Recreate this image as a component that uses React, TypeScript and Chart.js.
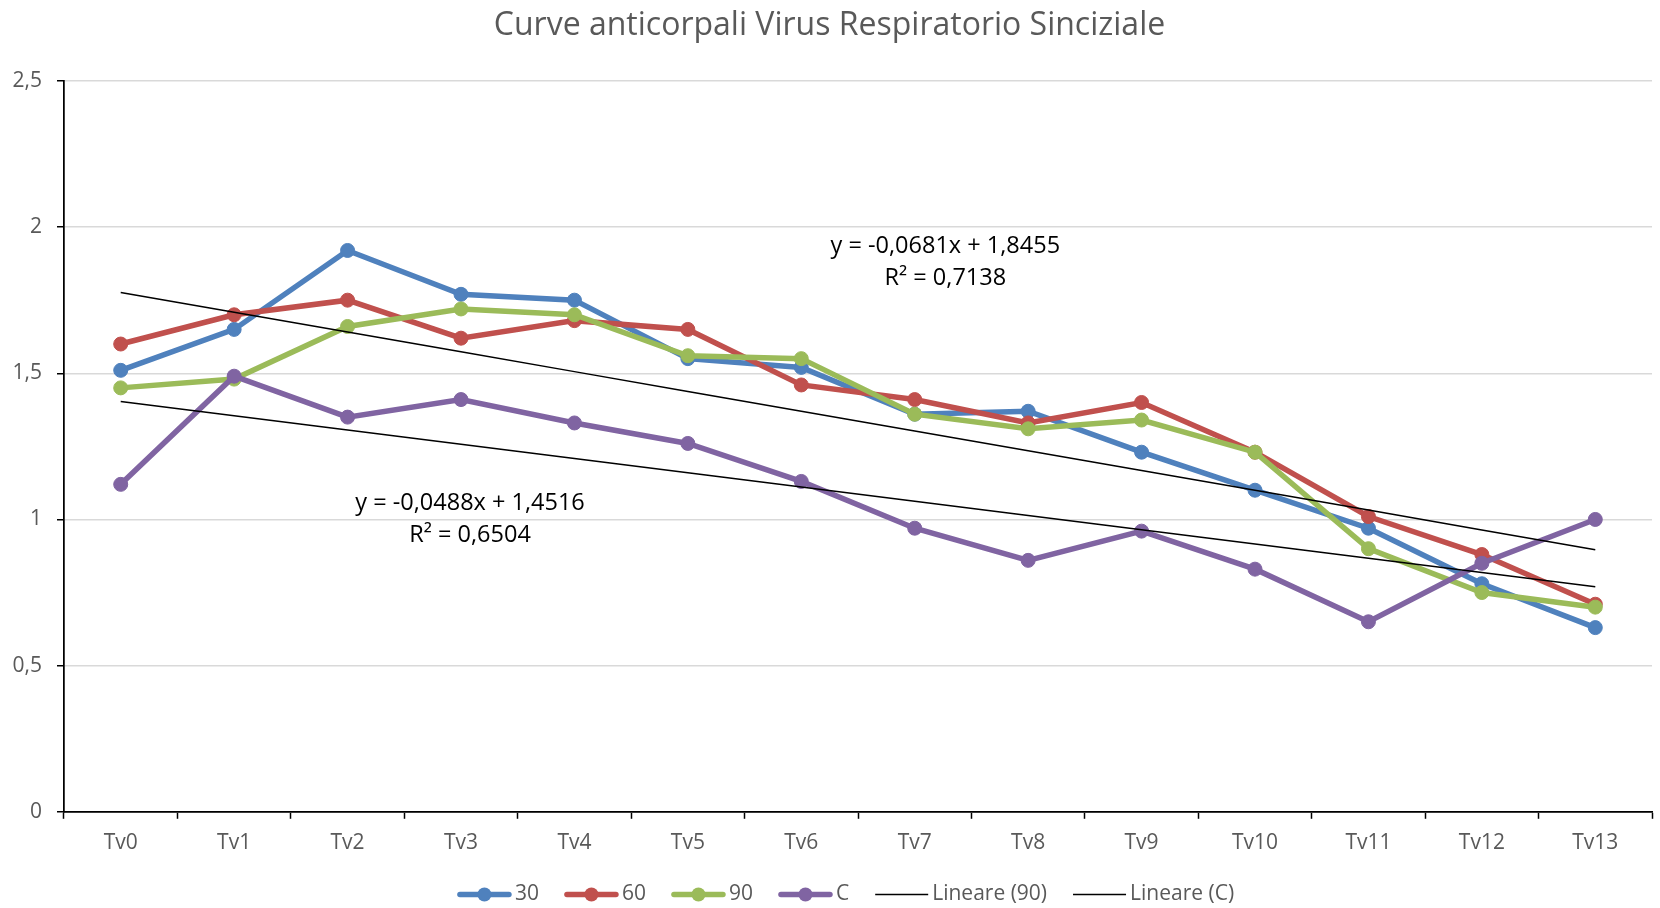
import React, { useEffect, useRef } from 'react';
import { Chart, registerables } from 'chart.js';

Chart.register(...registerables);

const categories = ['Tv0', 'Tv1', 'Tv2', 'Tv3', 'Tv4', 'Tv5', 'Tv6', 'Tv7', 'Tv8', 'Tv9', 'Tv10', 'Tv11', 'Tv12', 'Tv13'];
const series30 = [1.51, 1.65, 1.92, 1.77, 1.75, 1.55, 1.52, 1.36, 1.37, 1.23, 1.10, 0.97, 0.78, 0.63];
const series60 = [1.60, 1.70, 1.75, 1.62, 1.68, 1.65, 1.46, 1.41, 1.33, 1.40, 1.23, 1.01, 0.88, 0.71];
const series90 = [1.45, 1.48, 1.66, 1.72, 1.70, 1.56, 1.55, 1.36, 1.31, 1.34, 1.23, 0.90, 0.75, 0.70];
const seriesC = [1.12, 1.49, 1.35, 1.41, 1.33, 1.26, 1.13, 0.97, 0.86, 0.96, 0.83, 0.65, 0.85, 1.00];
const yTickValues = [0, 0.5, 1, 1.5, 2, 2.5];
const trendText90 = ['y = -0,0681x + 1,8455', 'R² = 0,7138'];
const trendTextC = ['y = -0,0488x + 1,4516', 'R² = 0,6504'];
const titleText = 'Curve anticorpali Virus Respiratorio Sinciziale';

const COLORS = { s30: '#4F81BD', s60: '#C0504D', s90: '#9BBB59', sC: '#8064A2' };
const FONT = "'Open Sans', 'Noto Sans', sans-serif";
const TEXT_GRAY = '#595959';

// Linear least-squares trendline over x = 1..n (as the spreadsheet does)
function linearTrend(values: number[]): number[] {
  const n = values.length;
  let sx = 0, sy = 0, sxx = 0, sxy = 0;
  values.forEach((v, i) => {
    const x = i + 1;
    sx += x; sy += v; sxx += x * x; sxy += x * v;
  });
  const slope = (n * sxy - sx * sy) / (n * sxx - sx * sx);
  const intercept = (sy - slope * sx) / n;
  return values.map((_, i) => intercept + slope * (i + 1));
}

const fmt = (v: number) => String(v).replace('.', ',');

export default function App() {
  const canvasRef = useRef<HTMLCanvasElement | null>(null);

  useEffect(() => {
    const canvas = canvasRef.current;
    if (!canvas) return;
    document.body.style.margin = '0';

    const seriesDs = (label: string, data: number[], color: string, order: number) => ({
      label,
      data,
      borderColor: color,
      backgroundColor: color,
      pointBackgroundColor: color,
      pointBorderColor: color,
      borderWidth: 5.5,
      pointRadius: 7,
      pointBorderWidth: 1,
      pointHoverRadius: 7,
      tension: 0,
      order,
      kind: 'series',
    });
    const trendDs = (label: string, data: number[]) => ({
      label,
      data,
      borderColor: '#000000',
      backgroundColor: '#000000',
      borderWidth: 1.5,
      pointRadius: 0,
      pointHoverRadius: 0,
      tension: 0,
      order: 0,
      kind: 'trend',
    });

    const datasets: any[] = [
      seriesDs('30', series30, COLORS.s30, 4),
      seriesDs('60', series60, COLORS.s60, 3),
      seriesDs('90', series90, COLORS.s90, 2),
      seriesDs('C', seriesC, COLORS.sC, 1),
      trendDs('Lineare (90)', linearTrend(series90)),
      trendDs('Lineare (C)', linearTrend(seriesC)),
    ];

    const annotations = [
      { lines: trendText90, xIndex: 7.27, yValue: 1.935 },
      { lines: trendTextC, xIndex: 3.08, yValue: 1.056 },
    ];

    const annotationPlugin = {
      id: 'trendAnnotations',
      afterDatasetsDraw(chart: any) {
        const { ctx, scales } = chart;
        ctx.save();
        ctx.font = `23.5px ${FONT}`;
        ctx.fillStyle = '#000000';
        ctx.textAlign = 'center';
        ctx.textBaseline = 'middle';
        annotations.forEach((a) => {
          const x = scales.x.getPixelForValue(a.xIndex);
          const y = scales.y.getPixelForValue(a.yValue);
          a.lines.forEach((line, i) => ctx.fillText(line, x, y + i * 32));
        });
        ctx.restore();
      },
    };

    const legendPlugin = {
      id: 'bottomLegend',
      afterDraw(chart: any) {
        const { ctx } = chart;
        const items = chart.data.datasets.map((d: any) => ({
          label: d.label,
          color: d.borderColor,
          kind: d.kind,
        }));
        ctx.save();
        ctx.font = `21px ${FONT}`;
        const boxW = 53;
        const gapText = 4;
        const gapItem = 26;
        const widths = items.map((it: any) => boxW + gapText + ctx.measureText(it.label).width);
        const total = widths.reduce((a: number, b: number) => a + b, 0) + gapItem * (items.length - 1);
        let x = 846 - total / 2;
        const y = 894.5;
        items.forEach((it: any, i: number) => {
          ctx.strokeStyle = it.color;
          ctx.lineCap = it.kind === 'series' ? 'round' : 'butt';
          ctx.lineWidth = it.kind === 'series' ? 5.5 : 1.5;
          ctx.beginPath();
          ctx.moveTo(x + (it.kind === 'series' ? 2 : 0), y);
          ctx.lineTo(x + boxW - (it.kind === 'series' ? 2 : 0), y);
          ctx.stroke();
          if (it.kind === 'series') {
            ctx.fillStyle = it.color;
            ctx.beginPath();
            ctx.arc(x + boxW / 2, y, 7, 0, Math.PI * 2);
            ctx.fill();
          }
          ctx.fillStyle = TEXT_GRAY;
          ctx.textAlign = 'left';
          ctx.textBaseline = 'middle';
          ctx.fillText(it.label, x + boxW + gapText, y);
          x += widths[i] + gapItem;
        });
        ctx.restore();
      },
    };

    const chart = new Chart(canvas, {
      type: 'line',
      data: { labels: categories, datasets },
      options: {
        animation: false,
        responsive: false,
        maintainAspectRatio: false,
        layout: { padding: { left: 0, right: 1, top: 0, bottom: 40 } },
        plugins: {
          legend: { display: false },
          tooltip: { enabled: false },
          title: {
            display: true,
            text: titleText,
            color: TEXT_GRAY,
            font: { family: FONT, size: 32, weight: 'normal' },
            padding: { top: 7, bottom: 35.5 },
          },
        },
        scales: {
          x: {
            type: 'category',
            offset: true,
            grid: {
              offset: true,
              drawOnChartArea: false,
              drawTicks: true,
              tickLength: 7,
              tickColor: '#000000',
              tickWidth: 1.5,
            },
            border: { display: true, color: '#000000', width: 1.75 },
            ticks: {
              color: TEXT_GRAY,
              font: { family: FONT, size: 21 },
              padding: 12,
              autoSkip: false,
              maxRotation: 0,
            },
          },
          y: {
            type: 'linear',
            min: 0,
            max: 2.5,
            afterFit(scale: any) {
              scale.width = 64;
            },
            afterBuildTicks(scale: any) {
              scale.ticks = yTickValues.map((v) => ({ value: v }));
            },
            grid: {
              color: '#D9D9D9',
              lineWidth: 1.5,
              drawTicks: true,
              tickLength: 7,
              tickColor: '#000000',
              tickWidth: 1.5,
            },
            border: { display: true, color: '#000000', width: 1.75 },
            ticks: {
              color: TEXT_GRAY,
              font: { family: FONT, size: 21 },
              padding: 15,
              callback: (v: any) => fmt(Number(v)),
            },
          },
        },
      } as any,
      plugins: [annotationPlugin, legendPlugin],
    });

    return () => chart.destroy();
  }, []);

  return (
    <div style={{ position: 'absolute', left: 0, top: 0, width: 1660, height: 908, background: '#ffffff' }}>
      <canvas ref={canvasRef} width={1660} height={908} style={{ display: 'block', width: 1660, height: 908 }} />
    </div>
  );
}
